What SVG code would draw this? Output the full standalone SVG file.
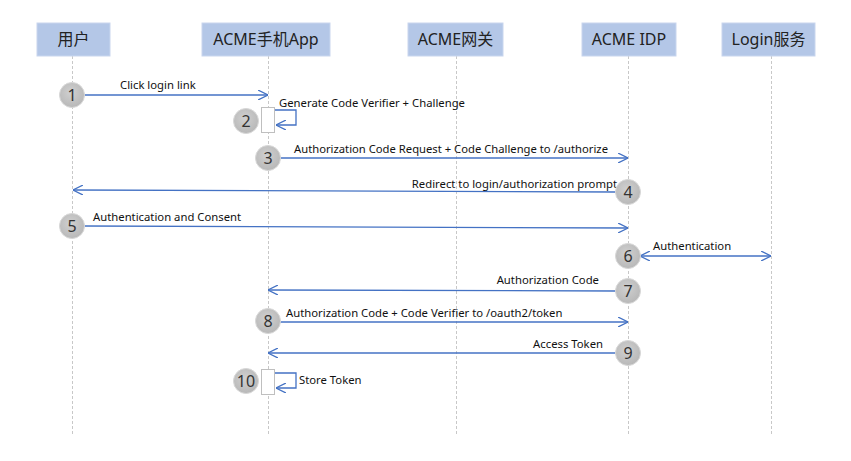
<svg xmlns="http://www.w3.org/2000/svg" width="851" height="461" viewBox="0 0 851 461">
<defs>
<style>
.hdr{fill:#b4c7e7;stroke:#c9d6ee;stroke-width:1}
.ht{font-family:"Noto Sans","Noto Sans CJK SC",sans-serif;font-size:16px;fill:#222;text-anchor:middle}
.life{stroke:#c8c8c8;stroke-width:1;stroke-dasharray:3,2}
.msg{stroke:#4472c4;stroke-width:1.3;fill:none}
.lbl{font-family:"Noto Sans",sans-serif;font-size:11.3px;fill:#111}
.num circle{fill:url(#g);stroke:#d8d8d8;stroke-width:1}
.num text{font-family:"Noto Sans",sans-serif;font-size:16px;fill:#333;text-anchor:middle}
.act{fill:#fff;stroke:#bfbfbf;stroke-width:1}
</style>
<radialGradient id="g" cx="0.45" cy="0.4" r="0.6">
<stop offset="0" stop-color="#d0d0d0"/>
<stop offset="1" stop-color="#b8b8b8"/>
</radialGradient>
<marker id="ah" viewBox="0 0 10 10" refX="10" refY="5" markerWidth="10" markerHeight="10" markerUnits="userSpaceOnUse" orient="auto-start-reverse">
<path d="M0,0 L10,5 L0,10" fill="none" stroke="#4472c4" stroke-width="1.3"/>
</marker>
</defs>
<rect width="851" height="461" fill="#fff"/>

<g id="lifelines">
<line class="life" x1="72.5" y1="56" x2="72.5" y2="436"/>
<line class="life" x1="268.5" y1="56" x2="268.5" y2="436"/>
<line class="life" x1="456.5" y1="56" x2="456.5" y2="436"/>
<line class="life" x1="628.5" y1="56" x2="628.5" y2="436"/>
<line class="life" x1="771.5" y1="56" x2="771.5" y2="436"/>
</g>

<g id="user"><rect class="hdr" x="37" y="23" width="73" height="33"/><text class="ht" x="73.5" y="45">用户</text></g>
<g id="app"><rect class="hdr" x="202" y="23" width="128" height="33"/><text class="ht" x="266" y="45">ACME手机App</text></g>
<g id="gateway"><rect class="hdr" x="408" y="23" width="95" height="33"/><text class="ht" x="455.5" y="45">ACME网关</text></g>
<g id="idp"><rect class="hdr" x="582" y="23" width="94" height="33"/><text class="ht" x="629" y="45">ACME IDP</text></g>
<g id="login"><rect class="hdr" x="722" y="23" width="93" height="33"/><text class="ht" x="768.5" y="45">Login服务</text></g>

<g id="activations">
<rect class="act" x="261.5" y="107.5" width="13" height="25"/>
<rect class="act" x="261.5" y="369.5" width="13" height="25"/>
</g>

<g id="connectors">
<line class="msg" x1="84" y1="95" x2="268" y2="95" marker-end="url(#ah)"/>
<polyline class="msg" points="275,110 296,110 296,125 276,125" marker-end="url(#ah)"/>
<line class="msg" x1="280" y1="158" x2="628" y2="158" marker-end="url(#ah)"/>
<line class="msg" x1="616" y1="192" x2="73" y2="190" marker-end="url(#ah)"/>
<line class="msg" x1="84" y1="226" x2="628" y2="228" marker-end="url(#ah)"/>
<line class="msg" x1="640" y1="256" x2="771" y2="256" marker-start="url(#ah)" marker-end="url(#ah)"/>
<line class="msg" x1="616" y1="291" x2="268" y2="290" marker-end="url(#ah)"/>
<line class="msg" x1="280" y1="322" x2="628" y2="322" marker-end="url(#ah)"/>
<line class="msg" x1="616" y1="353" x2="268" y2="353" marker-end="url(#ah)"/>
<polyline class="msg" points="275,373 296,373 296,388 276,388" marker-end="url(#ah)"/>
</g>

<g id="labels">
<text class="lbl" x="120" y="89">Click login link</text>
<text class="lbl" x="279" y="107">Generate Code Verifier + Challenge</text>
<text class="lbl" x="294" y="153" textLength="314" lengthAdjust="spacingAndGlyphs">Authorization Code Request + Code Challenge to /authorize</text>
<text class="lbl" x="617" y="188" text-anchor="end">Redirect to login/authorization prompt</text>
<text class="lbl" x="93" y="221">Authentication and Consent</text>
<text class="lbl" x="653" y="250">Authentication</text>
<text class="lbl" x="599" y="284" text-anchor="end">Authorization Code</text>
<text class="lbl" x="286" y="317">Authorization Code + Code Verifier to /oauth2/token</text>
<text class="lbl" x="603" y="348" text-anchor="end">Access Token</text>
<text class="lbl" x="299" y="384">Store Token</text>
</g>

<g id="steps" class="num">
<g><circle cx="72" cy="95" r="12.5"/><text x="72" y="101">1</text></g>
<g><circle cx="246" cy="121" r="12.5"/><text x="246" y="127">2</text></g>
<g><circle cx="268" cy="158" r="12.5"/><text x="268" y="164">3</text></g>
<g><circle cx="628" cy="192" r="12.5"/><text x="628" y="198">4</text></g>
<g><circle cx="72" cy="226" r="12.5"/><text x="72" y="232">5</text></g>
<g><circle cx="628" cy="256" r="12.5"/><text x="628" y="262">6</text></g>
<g><circle cx="628" cy="291" r="12.5"/><text x="628" y="297">7</text></g>
<g><circle cx="268" cy="321" r="12.5"/><text x="268" y="327">8</text></g>
<g><circle cx="628" cy="353" r="12.5"/><text x="628" y="359">9</text></g>
<g><circle cx="246" cy="381" r="12.5"/><text x="246" y="387">10</text></g>
</g>
</svg>
